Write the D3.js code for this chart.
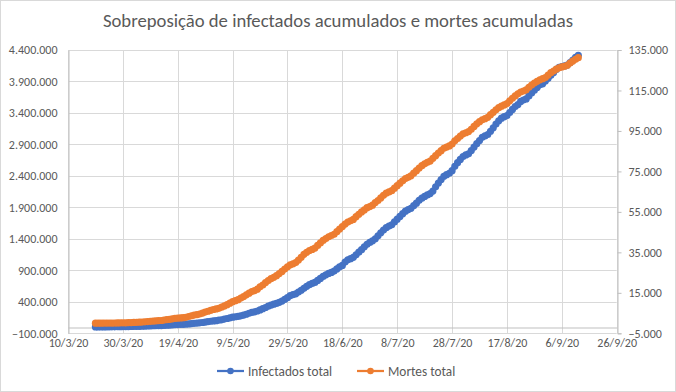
<!DOCTYPE html>
<html>
<head>
<meta charset="utf-8">
<script src="https://cdn.jsdelivr.net/npm/d3@7"></script>
<style>
  body { margin: 0; background: #fff; }
  svg text { font-family: Carlito, Lato, "Liberation Sans", sans-serif; fill: #595959; }
</style>
</head>
<body>
<div id="chart"></div>
<script>
// first day with data, one value per day after that
var inicio = "2020-03-20";

var casos = [
  904, 1128, 1546, 1891, 2201, 2433, 2915, 3417, 3904, 4256, 4579, 5717,
  6836, 7910, 9056, 10278, 11130, 12056, 13717, 15927, 17857, 19638, 20727, 22169, 23430, 25262, 28320,
  30425, 33682, 36599, 38654, 40581, 43079, 45757, 49492, 52995, 58509, 61888, 66501, 71886, 78162, 85380,
  91589, 96559, 101147, 107780, 114715, 125218, 135106, 145328, 155939, 162699, 168331, 177589, 188974,
  202918, 218223, 233142, 241080, 254220, 271628, 291579, 310087, 330890, 347398, 363211, 374898, 391222,
  411821, 438238, 465166, 498440, 514849,
  526447, 555383, 584016, 614941, 645771, 672846, 691758, 707412, 739503, 772416, 802828, 828810, 850514,
  867624, 888271, 923189, 955377, 978142, 1032913, 1067579, 1085038, 1106470, 1145906, 1188631, 1228114,
  1274974, 1313667, 1344143, 1368195, 1402041,
  1448753, 1496858, 1539081, 1577004, 1603055, 1623284, 1668589, 1713160, 1755779, 1800827, 1839850,
  1864681, 1884967, 1926824, 1966748, 2012151, 2046328, 2074860, 2098389, 2118646, 2159654, 2227514,
  2287475, 2343366, 2394513, 2419091, 2442375, 2483191, 2552265, 2610102, 2662485,
  2707877, 2733677, 2750318, 2801921, 2859073, 2912212, 2962442, 3012412, 3035422, 3057470, 3109630,
  3164785, 3224876, 3275520, 3317096, 3340197, 3359570, 3407354, 3456652, 3501975, 3532330, 3582362,
  3605783, 3622861, 3669995, 3717156, 3761391, 3804803, 3846153, 3862311, 3908272,
  3950931, 3997865, 4041638, 4091801, 4123000, 4137521, 4147794, 4162073, 4197889, 4238446, 4282164, 4315687
];

var mortes = [
  11, 18, 25, 34, 46, 57, 77, 92, 114, 136, 159, 201,
  240, 324, 359, 445, 486, 553, 667, 800, 941, 1056, 1124, 1223, 1328, 1532, 1736, 1924, 2141, 2354,
  2462, 2587, 2741, 2906, 3313, 3670, 4016, 4205, 4543, 5017, 5466, 5901,
  6329, 6750, 7025, 7321, 7921, 8536, 9146, 9897, 10627, 11123, 11625, 12400, 13149, 13993, 14817,
  15633, 16118, 16792, 17971, 18859, 20047, 21048, 22013, 22666, 23473, 24512, 25598, 26754, 27878,
  28834, 29314,
  29937, 31199, 32548, 34021, 35026, 35930, 36455, 37134, 38406, 39680, 40919, 41828, 42720, 43332,
  43959, 45241, 46510, 47748, 48954, 49976, 50617, 51271, 52645, 53830, 54971, 55961, 57070, 57622,
  58314, 59594,
  60632, 61884, 63174, 64265, 64867, 65487, 66741, 67964, 69184, 70398, 71469, 72100, 72833, 74133,
  75366, 76688, 77851, 78772, 79488, 80120, 81487, 82771, 84082, 85238, 86449, 87004, 87618, 88539,
  90134, 91263, 92475,
  93563, 94104, 94665, 95819, 97256, 98493, 99572, 100477, 101049, 101752, 103026, 104201, 105463,
  106523, 107232, 107852, 108536, 109888, 111100, 112304, 113358, 114250, 114744, 115309, 116580,
  117665, 118649, 119504, 120262, 120828, 121381,
  122596, 123780, 124614, 125502, 126203, 126650, 126960, 127464, 128539, 129522, 130396, 131210
];

var titulo = "Sobreposição de infectados acumulados e mortes acumuladas";
var nomes = ["Infectados total", "Mortes total"];
var cores = ["#4472C4", "#ED7D31"];

var ticksEsq = d3.range(-100000, 4400001, 500000);
var ticksDir = d3.range(-5000, 135001, 20000);
var ticksDatas = ["2020-03-10","2020-03-30","2020-04-19","2020-05-09","2020-05-29","2020-06-18",
                  "2020-07-08","2020-07-28","2020-08-17","2020-09-06","2020-09-26"];

var W = 676, H = 392;
var m = {left: 68, right: 616.7, top: 50, bottom: 333.3};

var br = d3.formatLocale({decimal: ",", thousands: ".", grouping: [3], currency: ["R$", ""]});
var fmt = br.format(",");
var parse = d3.utcParse("%Y-%m-%d");
var fmtData = d3.utcFormat("%-d/%-m/%y");

var t0 = parse(inicio);
var dias = casos.map(function(d, i){ return d3.utcDay.offset(t0, i); });
var datasTick = ticksDatas.map(parse);

var x = d3.scaleUtc().domain([datasTick[0], datasTick[datasTick.length-1]]).range([m.left, m.right]);
var yE = d3.scaleLinear().domain([-100000, 4400000]).range([m.bottom, m.top]);
var yD = d3.scaleLinear().domain([-5000, 135000]).range([m.bottom, m.top]);

var svg = d3.select("#chart").append("svg")
  .attr("width", W).attr("height", H);

svg.append("rect").attr("x", 0.5).attr("y", 0.5).attr("width", W-1).attr("height", H-1)
  .attr("fill", "#fff").attr("stroke", "#D9D9D9");

// gridlines
svg.append("g").selectAll("line").data(ticksEsq).enter().append("line")
  .attr("x1", m.left).attr("x2", m.right)
  .attr("y1", function(d){ return Math.round(yE(d)) + 0.5; })
  .attr("y2", function(d){ return Math.round(yE(d)) + 0.5; })
  .attr("stroke", "#D9D9D9");
svg.append("g").selectAll("line").data(datasTick).enter().append("line")
  .attr("x1", function(d){ return Math.round(x(d)) + 0.5; })
  .attr("x2", function(d){ return Math.round(x(d)) + 0.5; })
  .attr("y1", m.top).attr("y2", m.bottom)
  .attr("stroke", "#D9D9D9");

// left axis
var gE = svg.append("g").attr("transform", "translate(" + (m.left + 0.5) + ",0)")
  .call(d3.axisLeft(yE).tickValues(ticksEsq).tickFormat(fmt).tickSize(0).tickPadding(11));
gE.select(".domain").attr("stroke", "#BFBFBF");

// right axis
var gD = svg.append("g").attr("transform", "translate(" + (Math.round(m.right) + 0.5) + ",0)")
  .call(d3.axisRight(yD).tickValues(ticksDir).tickFormat(fmt).tickSize(4).tickSizeOuter(4).tickPadding(7));
gD.select(".domain").attr("stroke", "#BFBFBF");
gD.selectAll(".tick line").attr("stroke", "#BFBFBF");

// x axis crosses at zero on the left scale
var gX = svg.append("g").attr("transform", "translate(0," + (Math.round(yE(0)) + 0.5) + ")")
  .call(d3.axisBottom(x).tickValues(datasTick).tickFormat(fmtData).tickSize(0).tickPadding(0));
gX.select(".domain").attr("stroke", "#BFBFBF");
gX.selectAll(".tick text").attr("y", 0).attr("dy", 0)
  .attr("transform", "translate(0," + (346.5 - Math.round(yE(0)) - 0.5) + ")");

svg.selectAll(".tick text").style("font-size", "12px").attr("fill", "#595959");
svg.selectAll("g").attr("font-family", null);

// series
var series = [
  {vals: casos, y: yE, cor: cores[0]},
  {vals: mortes, y: yD, cor: cores[1]}
];
series.forEach(function(s){
  var pts = s.vals.map(function(v, i){ return [x(dias[i]), s.y(v)]; });
  svg.append("path").datum(pts)
    .attr("d", d3.line())
    .attr("fill", "none").attr("stroke", s.cor).attr("stroke-width", 2.25)
    .attr("stroke-linejoin", "round");
  svg.append("g").selectAll("circle").data(pts).enter().append("circle")
    .attr("cx", function(d){ return d[0]; })
    .attr("cy", function(d){ return d[1]; })
    .attr("r", 3.6)
    .attr("fill", s.cor);
});

// title
svg.append("text").attr("x", W/2).attr("y", 27).attr("text-anchor", "middle")
  .style("font-size", "18.7px").text(titulo);

// legend
var leg = [{x: 217, tx: 248}, {x: 357, tx: 388}];
leg.forEach(function(l, i){
  var g = svg.append("g");
  g.append("line").attr("x1", l.x).attr("x2", l.x + 27).attr("y1", 371).attr("y2", 371)
    .attr("stroke", cores[i]).attr("stroke-width", 2.25);
  g.append("circle").attr("cx", l.x + 13.5).attr("cy", 371).attr("r", 3.3).attr("fill", cores[i]);
  g.append("text").attr("x", l.tx).attr("y", 375.5).style("font-size", "13.3px").text(nomes[i]);
});
</script>
</body>
</html>
